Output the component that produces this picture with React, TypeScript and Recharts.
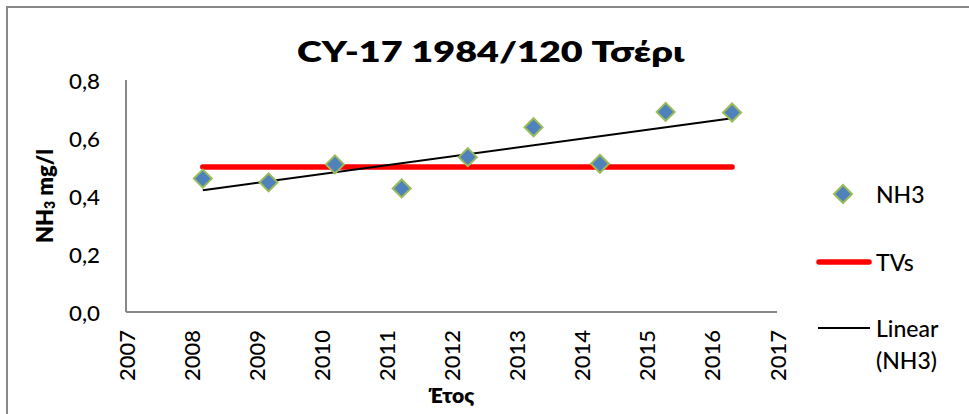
import { ComposedChart, XAxis, YAxis, Scatter, Line } from 'recharts';

// sample dates (decimal year) and NH3 values
const sampleYears = [2008.18, 2009.19, 2010.21, 2011.235, 2012.25, 2013.26, 2014.28, 2015.29, 2016.31];
const nh3Values = [0.46, 0.447, 0.509, 0.426, 0.534, 0.637, 0.511, 0.69, 0.688];

// threshold value (TVs) and the Excel linear trendline ends
const tvValues = [0.5, 0.5];
const trendValues = [0.42, 0.668];

const xTicks = [2007, 2008, 2009, 2010, 2011, 2012, 2013, 2014, 2015, 2016, 2017];
const yTicks = [0, 0.2, 0.4, 0.6, 0.8];

const FONT = 'Lato, "Noto Sans", sans-serif';
const AXIS_GREY = '#888888';

const firstYear = sampleYears[0];
const lastYear = sampleYears[sampleYears.length - 1];

const nh3Data = sampleYears.map((x, i) => ({ x, y: nh3Values[i] }));
const tvData = [
  { x: firstYear, y: tvValues[0] },
  { x: lastYear, y: tvValues[1] },
];
const trendData = [
  { x: firstYear, y: trendValues[0] },
  { x: lastYear, y: trendValues[1] },
];

const Diamond = (props: any) => {
  const { cx, cy } = props;
  const r = 9;
  return (
    <polygon
      points={`${cx},${cy - r} ${cx + r},${cy} ${cx},${cy + r} ${cx - r},${cy}`}
      fill="#4f81bd"
      stroke="#9bbb59"
      strokeWidth={2}
    />
  );
};

const XTick = (props: any) => {
  const { x, y, payload } = props;
  return (
    <text
      transform={`translate(${x},${y}) rotate(-90)`}
      textAnchor="end"
      dominantBaseline="central"
      fontFamily={FONT}
      fontWeight={500}
      fontSize={22}
      fill="#000"
    >
      {payload.value}
    </text>
  );
};

const YTick = (props: any) => {
  const { x, y, payload } = props;
  return (
    <text
      x={x}
      y={y}
      textAnchor="end"
      dominantBaseline="central"
      fontFamily={FONT}
      fontWeight={500}
      fontSize={21}
      textLength={31}
      lengthAdjust="spacingAndGlyphs"
      fill="#000"
    >
      {Number(payload.value).toFixed(1).replace('.', ',')}
    </text>
  );
};

export default function App() {
  return (
    <div
      style={{
        position: 'absolute',
        left: 0,
        top: 0,
        width: 969,
        height: 414,
        overflow: 'hidden',
        background: '#fff',
      }}
    >
      <div
        style={{
          position: 'absolute',
          left: 6,
          top: 6,
          width: 1000,
          height: 500,
          borderTop: `2px solid ${AXIS_GREY}`,
          borderLeft: `2px solid ${AXIS_GREY}`,
        }}
      />
      <div style={{ position: 'absolute', left: 0, top: 0 }}>
        <ComposedChart width={969} height={414} margin={{ top: 80, right: 192, bottom: 0, left: 0 }}>
          <XAxis
            type="number"
            dataKey="x"
            domain={[2007, 2017]}
            ticks={xTicks}
            interval={0}
            height={102}
            axisLine={{ stroke: AXIS_GREY, strokeWidth: 2 }}
            tickLine={false}
            tickSize={0}
            tickMargin={18}
            tick={<XTick />}
          />
          <YAxis
            type="number"
            dataKey="y"
            domain={[0, 0.8]}
            ticks={yTicks}
            interval={0}
            width={126}
            axisLine={{ stroke: AXIS_GREY, strokeWidth: 2 }}
            tickLine={false}
            tickSize={0}
            tickMargin={26}
            tick={<YTick />}
          />
          <Line
            data={tvData}
            dataKey="y"
            stroke="#ff0000"
            strokeWidth={5.5}
            strokeLinecap="round"
            dot={false}
            activeDot={false}
            isAnimationActive={false}
          />
          <Line
            data={trendData}
            dataKey="y"
            stroke="#000000"
            strokeWidth={2}
            dot={false}
            activeDot={false}
            isAnimationActive={false}
          />
          <Scatter data={nh3Data} dataKey="y" shape={Diamond} isAnimationActive={false} />
        </ComposedChart>
      </div>
      <svg
        width={969}
        height={414}
        style={{ position: 'absolute', left: 0, top: 0, pointerEvents: 'none' }}
      >
        <text
          x={490.5}
          y={62}
          textAnchor="middle"
          fontFamily={FONT}
          fontWeight={800}
          fontSize={28}
          textLength={387}
          lengthAdjust="spacingAndGlyphs"
        >
          CY-17 1984/120 Τσέρι
        </text>
        <text
          transform="translate(44,196) rotate(-90)"
          textAnchor="middle"
          dominantBaseline="central"
          fontFamily={FONT}
          fontWeight={800}
          fontSize={22}
        >
          NH<tspan fontSize={14} dy={5}>3</tspan>
          <tspan dy={-5}> mg/l</tspan>
        </text>
        <text x={451.5} y={403} textAnchor="middle" fontFamily={FONT} fontWeight={800} fontSize={21}>
          Έτος
        </text>

        {/* legend */}
        <polygon points="843,185 852,194 843,203 834,194" fill="#4f81bd" stroke="#9bbb59" strokeWidth={2} />
        <text x={876} y={194} dominantBaseline="central" fontFamily={FONT} fontWeight={500} fontSize={23}>
          NH3
        </text>
        <line x1={819} y1={262} x2={869} y2={262} stroke="#ff0000" strokeWidth={5.5} strokeLinecap="round" />
        <text x={876} y={262} dominantBaseline="central" fontFamily={FONT} fontWeight={500} fontSize={23}>
          TVs
        </text>
        <line x1={818} y1={328} x2={870} y2={328} stroke="#000" strokeWidth={2} />
        <text x={876} y={328} dominantBaseline="central" fontFamily={FONT} fontWeight={500} fontSize={23}>
          Linear
        </text>
        <text x={876} y={360} dominantBaseline="central" fontFamily={FONT} fontWeight={500} fontSize={23}>
          (NH3)
        </text>
      </svg>
    </div>
  );
}
